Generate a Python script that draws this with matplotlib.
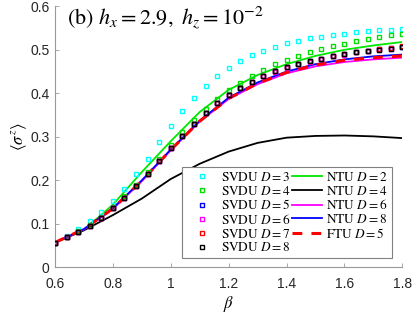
import matplotlib
matplotlib.use("Agg")
import matplotlib.pyplot as plt
import numpy as np

# beta grid of the SVDU points
beta_pts = [0.60, 0.64, 0.68, 0.72, 0.76, 0.80, 0.84, 0.88, 0.92, 0.96, 1.00,
            1.04, 1.08, 1.12, 1.16, 1.20, 1.24, 1.28, 1.32, 1.36, 1.40, 1.44,
            1.48, 1.52, 1.56, 1.60, 1.64, 1.68, 1.72, 1.76, 1.80]

svdu_d3 = [0.057, 0.072, 0.087, 0.106, 0.128, 0.153, 0.181, 0.215, 0.250, 0.287, 0.324,
           0.360, 0.390, 0.417, 0.439, 0.458, 0.474, 0.487, 0.498, 0.507, 0.515, 0.520,
           0.526, 0.530, 0.534, 0.537, 0.540, 0.543, 0.545, 0.546, 0.548]
svdu_d4 = [0.057, 0.070, 0.083, 0.098, 0.116, 0.138, 0.163, 0.190, 0.219, 0.250, 0.281,
           0.310, 0.338, 0.364, 0.388, 0.408, 0.424, 0.440, 0.454, 0.467, 0.477, 0.486,
           0.494, 0.501, 0.508, 0.514, 0.520, 0.524, 0.529, 0.533, 0.537]
svdu_d5 = [0.057, 0.069, 0.082, 0.096, 0.114, 0.136, 0.160, 0.186, 0.214, 0.244, 0.274,
           0.302, 0.329, 0.354, 0.377, 0.397, 0.413, 0.427, 0.439, 0.451, 0.460, 0.468,
           0.474, 0.480, 0.486, 0.490, 0.495, 0.498, 0.501, 0.504, 0.507]
svdu_d6 = [0.057, 0.069, 0.082, 0.096, 0.114, 0.136, 0.160, 0.186, 0.214, 0.244, 0.274,
           0.302, 0.329, 0.354, 0.377, 0.397, 0.413, 0.427, 0.439, 0.450, 0.459, 0.467,
           0.473, 0.479, 0.485, 0.489, 0.494, 0.497, 0.500, 0.503, 0.506]
svdu_d7 = [0.057, 0.069, 0.082, 0.096, 0.114, 0.136, 0.160, 0.186, 0.214, 0.244, 0.274,
           0.302, 0.329, 0.354, 0.377, 0.397, 0.413, 0.427, 0.439, 0.451, 0.460, 0.468,
           0.474, 0.480, 0.486, 0.490, 0.495, 0.498, 0.501, 0.505, 0.508]
svdu_d8 = [0.057, 0.069, 0.082, 0.096, 0.114, 0.136, 0.160, 0.186, 0.214, 0.244, 0.274,
           0.302, 0.329, 0.354, 0.377, 0.397, 0.413, 0.427, 0.439, 0.451, 0.460, 0.468,
           0.474, 0.480, 0.486, 0.490, 0.495, 0.498, 0.500, 0.503, 0.506]

# beta grid of the continuous curves
beta_line = [0.6, 0.7, 0.8, 0.9, 1.0, 1.1, 1.2, 1.3, 1.4, 1.5, 1.6, 1.7, 1.8]

ntu_d2 = [0.057, 0.086, 0.144, 0.219, 0.290, 0.357, 0.408, 0.442, 0.467, 0.486, 0.500, 0.510, 0.518]
ntu_d4 = [0.057, 0.085, 0.120, 0.158, 0.203, 0.238, 0.266, 0.286, 0.298, 0.302, 0.303, 0.301, 0.297]
ntu_d6 = [0.057, 0.087, 0.134, 0.198, 0.269, 0.335, 0.387, 0.421, 0.446, 0.462, 0.472, 0.478, 0.482]
ntu_d8 = [0.057, 0.088, 0.136, 0.200, 0.271, 0.337, 0.390, 0.425, 0.450, 0.467, 0.478, 0.485, 0.489]
ftu_d5 = [0.057, 0.088, 0.135, 0.199, 0.270, 0.336, 0.388, 0.423, 0.448, 0.465, 0.476, 0.482, 0.486]

plt.rcParams['mathtext.fontset'] = 'stix'
plt.rcParams['font.family'] = ['Liberation Sans', 'DejaVu Sans']

fig = plt.figure(figsize=(4.15, 3.17), dpi=100)
ax = fig.add_axes([0.1325, 0.1568, 0.837, 0.8233])

line_kw = dict(lw=1.3)
h_ntu2, = ax.plot(beta_line, ntu_d2, color='#00e600', label=r'NTU $D=2$', **line_kw)
h_ntu4, = ax.plot(beta_line, ntu_d4, color='black', label=r'NTU $D=4$', **line_kw)
h_ntu6, = ax.plot(beta_line, ntu_d6, color='#ff00ff', label=r'NTU $D=6$', **line_kw)
h_ntu8, = ax.plot(beta_line, ntu_d8, color='#0000ff', label=r'NTU $D=8$', **line_kw)
h_ftu5, = ax.plot(beta_line, ftu_d5, color='#ff0000', lw=2.2, dashes=(3.2, 3.0),
                  label=r'FTU $D=5$')

mk = dict(ls='none', marker='s', ms=3.2, mfc='none', mew=1.0, zorder=3)
h3, = ax.plot(beta_pts, svdu_d3, mec='#00ffff', label=r'SVDU $D=3$', **mk)
h4, = ax.plot(beta_pts, svdu_d4, mec='#00dd00', label=r'SVDU $D=4$', **mk)
h5, = ax.plot(beta_pts, svdu_d5, mec='#0000ff', label=r'SVDU $D=5$', **mk)
h6, = ax.plot(beta_pts, svdu_d6, mec='#ff00ff', label=r'SVDU $D=6$', **mk)
h7, = ax.plot(beta_pts, svdu_d7, mec='#ff0000', label=r'SVDU $D=7$', **mk)
h8, = ax.plot(beta_pts, svdu_d8, mec='black', label=r'SVDU $D=8$', **mk)

ax.set_xlim(0.6, 1.8)
ax.set_ylim(0, 0.6)
ax.set_xticks([0.6, 0.8, 1.0, 1.2, 1.4, 1.6, 1.8])
ax.set_xticklabels(['0.6', '0.8', '1', '1.2', '1.4', '1.6', '1.8'])
ax.set_yticks([0, 0.1, 0.2, 0.3, 0.4, 0.5, 0.6])
ax.set_yticklabels(['0', '0.1', '0.2', '0.3', '0.4', '0.5', '0.6'])

for s in ['top', 'right']:
    ax.spines[s].set_visible(False)
for s in ['left', 'bottom']:
    ax.spines[s].set_color('#999999')
    ax.spines[s].set_linewidth(0.8)
ax.tick_params(direction='in', length=3, width=0.6, color='#999999',
               labelsize=10, labelcolor='#262626')
ax.tick_params(axis='x', pad=7)
ax.tick_params(axis='y', pad=4)

ax.set_xlabel(r'$\beta$', fontsize=12, labelpad=2)
ax.set_ylabel(r'$\langle\sigma^z\rangle$', fontsize=12, labelpad=1)

fig.text(0.161, 0.942, r'(b) $h_x=2.9,\ h_z=10^{-2}$', fontsize=16,
         family='STIXGeneral', va='center', ha='left')

handles = [h3, h4, h5, h6, h7, h8, h_ntu2, h_ntu4, h_ntu6, h_ntu8, h_ftu5]
leg = ax.legend(handles=handles, ncol=2, loc='lower right',
                bbox_to_anchor=(0.9695, 0.0345),
                prop={'family': 'STIXGeneral', 'size': 9.5},
                frameon=True, fancybox=False, framealpha=1, edgecolor='#808080',
                handlelength=2.3, handletextpad=0.3, columnspacing=0.1,
                labelspacing=0.05, borderpad=0.3, borderaxespad=0)
leg.get_frame().set_linewidth(0.8)

fig.savefig('out.png', dpi=100)
